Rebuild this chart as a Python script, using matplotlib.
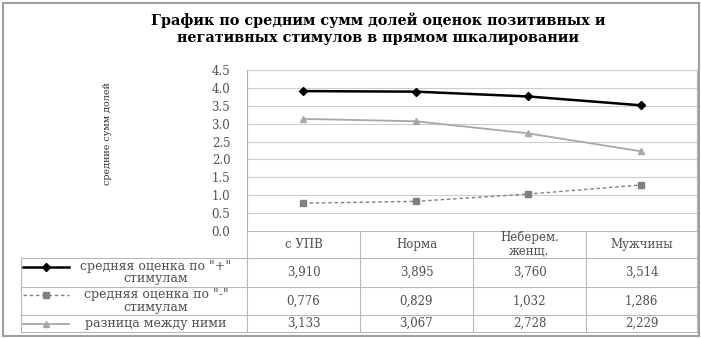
import matplotlib.pyplot as plt
from matplotlib.patches import Rectangle

plt.rcParams['font.family'] = ['DejaVu Serif', 'Liberation Serif']

categories = ["с УПВ", "Норма", "Неберем.\nженщ.", "Мужчины"]
pos_scores = [3.910, 3.895, 3.760, 3.514]
neg_scores = [0.776, 0.829, 1.032, 1.286]
diff_scores = [3.133, 3.067, 2.728, 2.229]
series_labels = ['средняя оценка по "+"\nстимулам',
                 'средняя оценка по "-"\nстимулам',
                 'разница между ними']
yticks = [0.0, 0.5, 1.0, 1.5, 2.0, 2.5, 3.0, 3.5, 4.0, 4.5]

W, H = 701, 338
fig = plt.figure(figsize=(W / 100, H / 100), dpi=100)

# pixel helper for placing axes
def px_axes(x0, y0, x1, y1):
    return fig.add_axes([x0 / W, 1 - y1 / H, (x1 - x0) / W, (y1 - y0) / H])

styles = [
    dict(color='black', lw=1.8, ls='-', marker='D', ms=4),
    dict(color='#808080', lw=1.0, ls=(0, (2.5, 2)), marker='s', ms=5),
    dict(color='#a8a8a8', lw=1.3, ls='-', marker='^', ms=5),
]
series = [pos_scores, neg_scores, diff_scores]
txt_color = '#505050'

ax = px_axes(247, 70, 697, 231)
xs = range(len(categories))
for vals, st in zip(series, styles):
    ax.plot(xs, vals, color=st['color'], lw=st['lw'], ls=st['ls'],
            marker=st['marker'], ms=st['ms'], mec=st['color'], mfc=st['color'])
ax.set_xlim(-0.5, len(categories) - 0.5)
ax.set_ylim(0, 4.5)
ax.set_yticks(yticks)
ax.set_yticklabels([f"{v:.1f}" for v in yticks], color=txt_color, fontsize=8.5)
ax.set_xticks([])
ax.tick_params(axis='y', length=0, pad=12)
ax.grid(axis='y', color='#cccccc', lw=0.8)
ax.set_axisbelow(True)
for s in ['top', 'bottom']:
    ax.spines[s].set_visible(False)
for s in ['left', 'right']:
    ax.spines[s].set_color('#b0b0b0')
    ax.spines[s].set_linewidth(0.8)

# overlay in pixel coordinates for the data table, title and frame
ov = fig.add_axes([0, 0, 1, 1], zorder=-1)
ov.set_xlim(0, W)
ov.set_ylim(H, 0)
ov.axis('off')
ov.add_patch(Rectangle((2.5, 2.5), W - 5, H - 5, fill=False, ec='#a0a0a0', lw=1.5))

ov.text(378, 20, "График по средним сумм долей оценок позитивных и",
        ha='center', va='center', fontsize=10.4, fontweight='bold')
ov.text(378, 38, "негативных стимулов в прямом шкалировании",
        ha='center', va='center', fontsize=10.4, fontweight='bold')
ov.text(108, 134, "средние сумм долей", rotation=90, ha='center', va='center',
        fontsize=6.8, color='#303030')

col_edges = [247, 360, 473, 586, 697]
row_edges = [231, 258, 287, 315, 332]
gc = '#b8b8b8'
for x in col_edges:
    ov.plot([x, x], [row_edges[0], row_edges[-1]], color=gc, lw=0.8)
for y in row_edges:
    ov.plot([21, 697] if y != row_edges[0] else [247, 697], [y, y], color=gc, lw=0.8)
ov.plot([21, 21], [row_edges[1], row_edges[-1]], color=gc, lw=0.8)

for i, cat in enumerate(categories):
    cx = (col_edges[i] + col_edges[i + 1]) / 2
    ov.text(cx, (row_edges[0] + row_edges[1]) / 2, cat, ha='center', va='center',
            fontsize=8.5, color=txt_color, linespacing=1.05)

for r, (vals, st, lab) in enumerate(zip(series, styles, series_labels)):
    cy = (row_edges[r + 1] + row_edges[r + 2]) / 2
    ly = cy - (6 if '\n' in lab else 0)
    ov.plot([23, 69], [ly, ly], color=st['color'], lw=st['lw'], ls=st['ls'])
    ov.plot([46], [ly], marker=st['marker'], ms=st['ms'], color=st['color'])
    ov.text(156, cy, lab, ha='center', va='center', fontsize=9, color=txt_color,
            linespacing=0.95)
    for i, v in enumerate(vals):
        cx = (col_edges[i] + col_edges[i + 1]) / 2
        ov.text(cx, cy, f"{v:.3f}".replace('.', ','), ha='center', va='center',
                fontsize=8.5, color=txt_color)

fig.savefig('out.png', dpi=100)
